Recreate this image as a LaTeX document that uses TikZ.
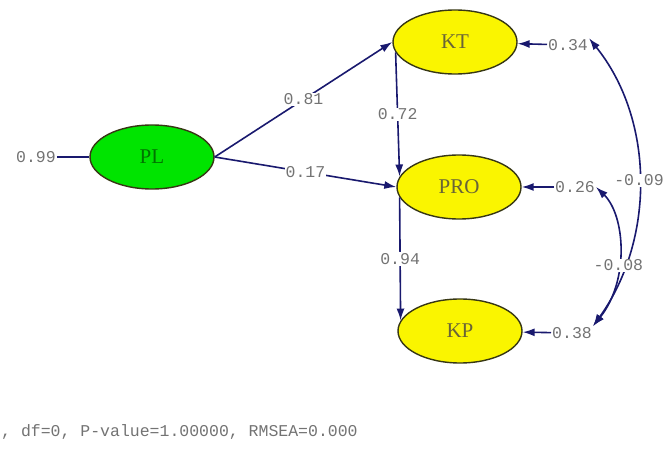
\documentclass[tikz,border=0pt]{standalone}
\usepackage{fontspec}
\setmainfont{Liberation Serif}
\setmonofont{Liberation Mono}
\usetikzlibrary{shapes.geometric,arrows.meta}
\definecolor{pathblue}{RGB}{25,25,110}
\definecolor{labelgray}{RGB}{115,115,115}
\definecolor{latgreen}{RGB}{0,228,0}
\definecolor{latyellow}{RGB}{250,245,0}
\definecolor{rimdark}{RGB}{55,55,20}
\definecolor{namecol}{RGB}{105,100,55}

\begin{document}
\begin{tikzpicture}[x=1pt, y=-1pt,
    latent/.style={ellipse, draw=rimdark, line width=1.4pt, minimum width=124pt,
      minimum height=64pt, inner sep=0pt, font=\fontsize{21}{23}\selectfont, text=namecol},
    coef/.style={font=\ttfamily\fontsize{16.5}{18}\selectfont, text=labelgray, inner sep=1pt},
    onpath/.style={coef, fill=white},
    tip/.tip={Latex[length=12pt,width=8pt]},
    path/.style={draw=pathblue, line width=1.6pt, -tip},
    plain/.style={draw=pathblue, line width=1.6pt}]
    \useasboundingbox (0,0) rectangle (667,465);

    \node[latent, fill=latgreen, text=black!55!green] (PL) at (152,157) {PL};
    \node[latent, fill=latyellow] (KT) at (455,42) {KT};
    \node[latent, fill=latyellow] (PRO) at (459,187) {PRO};
    \node[latent, fill=latyellow] (KP) at (460,331) {KP};

    % error terms
    \node[coef] (ePL) at (36,157) {0.99};
    \node[coef] (eKT) at (568,45) {0.34};
    \node[coef] (ePRO) at (575,187) {0.26};
    \node[coef] (eKP) at (572,333) {0.38};

    \draw[plain] (ePL) -- (PL);
    \draw[path] (eKT) -- (KT);
    \draw[path] (ePRO) -- (PRO);
    \draw[path] (eKP) -- (KP);

    % structural paths
    \draw[path] (PL.east) -- node[onpath] {0.81} (KT.west);
    \draw[path] (PL.east) -- node[onpath] {0.17} (PRO.west);
    \draw[path] (KT.190) -- node[onpath] {0.72} (PRO.170);
    \draw[path] (PRO.190) -- node[onpath] {0.94} (KP.170);

    % error covariances
    \draw[path, tip-tip]
      (eKP.north east) .. controls (655,240) and (655,120) .. node[onpath] {-0.09} (eKT.north east);
    \draw[path, tip-tip]
      (eKP.north east) .. controls (630,280) and (625,215) .. node[onpath, pos=0.4] {-0.08} (ePRO.east);

    \node[coef, anchor=west] (fit) at (0,432) {, df=0, P-value=1.00000, RMSEA=0.000};
\end{tikzpicture}
\end{document}
